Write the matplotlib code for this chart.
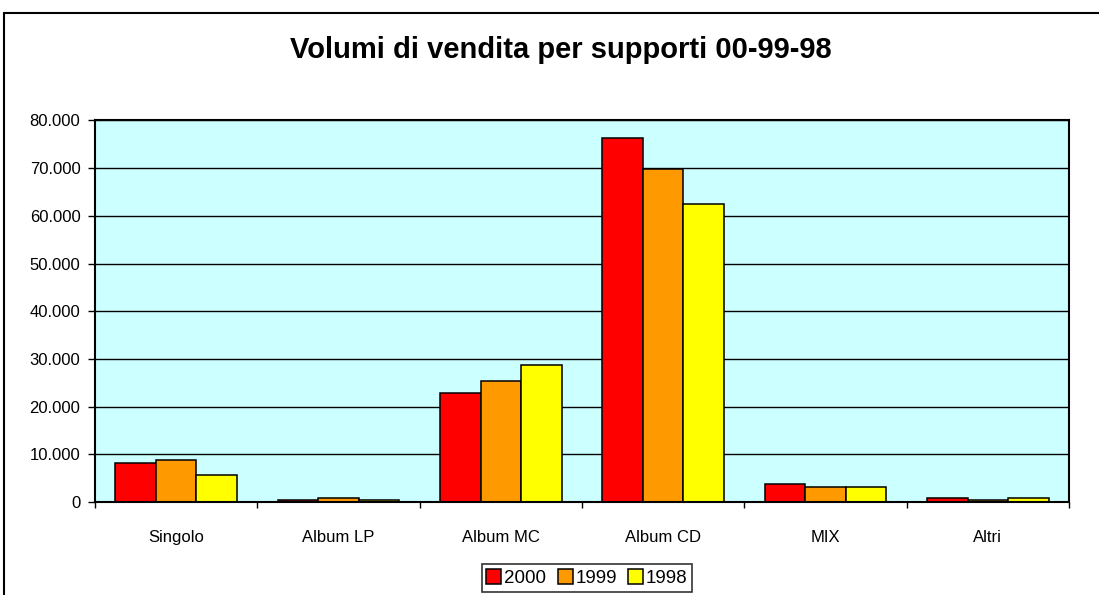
import numpy as np
import matplotlib
matplotlib.use("Agg")
import matplotlib.pyplot as plt
from matplotlib.patches import Rectangle
from matplotlib.ticker import FuncFormatter, FixedLocator

plt.rcParams['font.family'] = ['Liberation Sans', 'DejaVu Sans']

categories = ['Singolo', 'Album LP', 'Album MC', 'Album CD', 'MIX', 'Altri']
years = ['2000', '1999', '1998']
vol_2000 = [8200, 400, 22900, 76300, 3700, 800]
vol_1999 = [8750, 900, 25400, 69900, 3200, 350]
vol_1998 = [5700, 350, 28700, 62500, 3200, 800]
colors = ['#FF0000', '#FF9900', '#FFFF00']

fig = plt.figure(figsize=(10.99, 5.95), dpi=100)
ax = fig.add_axes([95 / 1099, 93 / 595, 974 / 1099, 381.5 / 595])
ax.set_facecolor('#CCFFFF')

# cornice esterna del grafico
fig.patches.append(Rectangle((4 / 1099, -0.05), 1.2, (582 / 595) + 0.05,
                             transform=fig.transFigure, fill=False,
                             edgecolor='black', linewidth=1.5))

x = np.arange(len(categories))
w = 0.25
series = [vol_2000, vol_1999, vol_1998]
for i, (vals, col, lab) in enumerate(zip(series, colors, years)):
    ax.bar(x + (i - 1) * w, vals, w, color=col, edgecolor='black',
           linewidth=1.1, label=lab, zorder=3)

ax.set_xlim(-0.5, 5.5)
ax.set_ylim(0, 80000)
ax.set_yticks(np.arange(0, 80001, 10000))
ax.yaxis.set_major_formatter(FuncFormatter(lambda v, p: f'{int(v):,}'.replace(',', '.')))
ax.grid(axis='y', color='black', linewidth=1.0, zorder=1)

ax.set_xticks(x)
ax.set_xticklabels(categories)
ax.xaxis.set_minor_locator(FixedLocator(np.arange(-0.5, 5.6, 1)))
ax.tick_params(axis='x', which='major', length=0, pad=20, labelsize=12)
ax.tick_params(axis='x', which='minor', length=4.5, width=1.0, direction='out')
ax.tick_params(axis='y', length=5, width=1.0, direction='out', pad=5.5, labelsize=12)

for s in ax.spines.values():
    s.set_linewidth(1.5)
    s.set_zorder(4)

fig.text(0.51, 0.916, 'Volumi di vendita per supporti 00-99-98',
         ha='center', va='center', fontsize=21, fontweight='bold')

leg = fig.legend(loc='center', bbox_to_anchor=(587 / 1099, 17 / 595), ncol=3,
                 fontsize=13.5, frameon=True, fancybox=False, handlelength=0.8,
                 handleheight=0.8, handletextpad=0.15, columnspacing=0.6,
                 borderpad=0.25, borderaxespad=0)
leg.get_frame().set_edgecolor('black')
leg.get_frame().set_linewidth(1.2)

fig.savefig('out.png', dpi=100)
